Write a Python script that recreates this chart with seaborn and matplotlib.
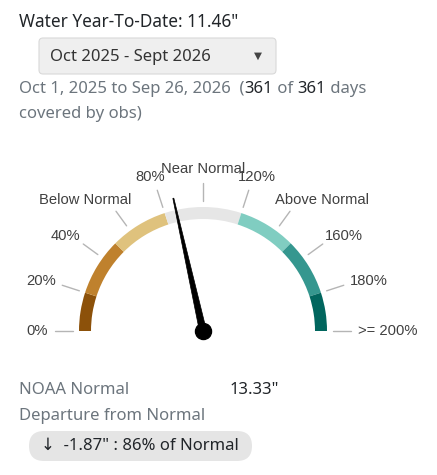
import numpy as np
import matplotlib
matplotlib.use("Agg")
import matplotlib.pyplot as plt
from matplotlib.patches import Wedge, FancyBboxPatch, Polygon
import seaborn as sns
import pandas as pd

# ---- data ----
title_text = 'Water Year-To-Date: 11.46"'
period_label = "Oct 2025 - Sept 2026"
segment_edges = [0, 20, 50, 80, 120, 150, 180, 200]
segment_colors = ["#8C510A", "#BF812D", "#DFC27D", "#E6E6E6", "#80CDC1", "#35978F", "#01665E"]
tick_values = [0, 20, 40, 60, 80, 100, 120, 140, 160, 180, 200]
tick_labels = ["0%", "20%", "40%", "Below Normal", "80%", "Near Normal", "120%",
               "Above Normal", "160%", "180%", ">= 200%"]
pct_of_normal = 86
noaa_normal = '13.33"'
departure = '-1.87"'

sns.set_theme(style="white")
plt.rcParams['font.family'] = ['Noto Sans', 'DejaVu Sans']

W, H = 437, 475
fig = plt.figure(figsize=(W / 100, H / 100), dpi=100)
ax = fig.add_axes([0, 0, 1, 1])
ax.set_xlim(0, W)
ax.set_ylim(0, H)
ax.axis("off")

def Y(p):
    return H - p

DARK = "#212529"
GREY = "#6c757d"
FS = 12.0

# header texts
ax.text(19, Y(22), title_text, fontsize=12.4, color=DARK, va="center", ha="left")
ax.add_patch(FancyBboxPatch((39, Y(74)), 237, 36, boxstyle="round,pad=0,rounding_size=4",
                            fc="#efefef", ec="#d9d9d9", lw=0.8))
ax.text(50, Y(57), period_label, fontsize=FS, color="#333333", va="center", ha="left")
ax.text(258, Y(56), "▼", fontsize=7.5, color="#444444", va="center", ha="center",
        family=["DejaVu Sans"])
base = ax.text(19, Y(89), "Oct 1, 2025 to Sep 26, 2026  (", fontsize=FS, color=GREY,
               va="center", ha="left")
ax.text(19, Y(114), "covered by obs)", fontsize=FS, color=GREY, va="center", ha="left")

# gauge
cx, cy = 203, Y(331)
r_out, width = 124, 12
def ang(v):
    return 180 - v * 0.9

for i, col in enumerate(segment_colors):
    a1, a2 = ang(segment_edges[i + 1]), ang(segment_edges[i])
    ax.add_patch(Wedge((cx, cy), r_out, a1, a2, width=width, fc=col, ec="none"))

fig.canvas.draw()
renderer = fig.canvas.get_renderer()

pieces = [("361", DARK), (" of ", GREY), ("361", DARK), (" days", GREY)]
x = base.get_window_extent(renderer).x1
for txt, col in pieces:
    tt = ax.text(x, Y(89), txt, fontsize=FS, color=col, va="center", ha="left")
    fig.canvas.draw()
    x = tt.get_window_extent(renderer).x1

for v, lab in zip(tick_values, tick_labels):
    th = np.deg2rad(ang(v))
    c, s = np.cos(th), np.sin(th)
    ax.plot([cx + 130 * c, cx + 148 * c], [cy + 130 * s, cy + 148 * s], color="#b5b5b5", lw=1)
    ax_, ay_ = cx + 155 * c, cy + 155 * s
    tt = ax.text(ax_, ay_, lab, fontsize=10.6, color="#404040", ha="center", va="center",
                 family=["Liberation Sans", "DejaVu Sans"])
    fig.canvas.draw()
    e = tt.get_window_extent(renderer)
    w, h = e.width, e.height
    tt.set_position((ax_ + c * w / 2, ay_ + s * h / 2))

# needle
th = np.deg2rad(ang(pct_of_normal))
c, s = np.cos(th), np.sin(th)
px, py = -s, c
L = 136
needle = [(cx + 3.5 * px, cy + 3.5 * py), (cx + L * c + 0.5 * px, cy + L * s + 0.5 * py),
          (cx + L * c - 0.5 * px, cy + L * s - 0.5 * py), (cx - 3.5 * px, cy - 3.5 * py)]
ax.add_patch(Polygon(needle, closed=True, fc="black", ec="black", lw=0.5))
hub = pd.DataFrame({"x": [cx], "y": [cy]})
sns.scatterplot(data=hub, x="x", y="y", s=135, color="black", edgecolor="black", ax=ax, legend=False)
ax.set_xlim(0, W)
ax.set_ylim(0, H)
ax.axis("off")

# bottom texts
ax.text(19, Y(390), "NOAA Normal", fontsize=FS, color=GREY, va="center", ha="left")
ax.text(230, Y(390), noaa_normal, fontsize=FS, color=DARK, va="center", ha="left")
ax.text(19, Y(416), "Departure from Normal", fontsize=FS, color=GREY, va="center", ha="left")
ax.add_patch(FancyBboxPatch((29, Y(461)), 223, 30, boxstyle="round,pad=0,rounding_size=15",
                            fc="#e5e5e5", ec="none"))
ax.text(41, Y(446), f"↓  {departure} : {pct_of_normal}% of Normal", fontsize=FS, color=DARK,
        va="center", ha="left")

fig.savefig("out.png", dpi=100)
